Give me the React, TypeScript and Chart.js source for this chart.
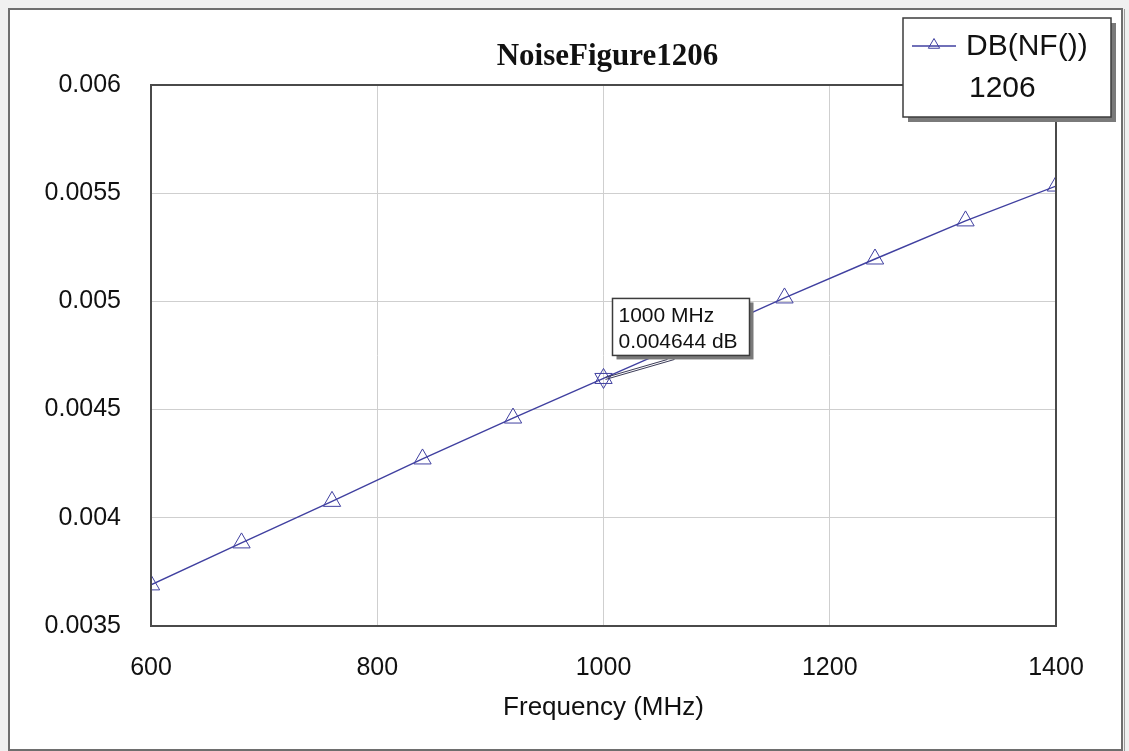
import React, { useEffect, useRef } from "react";
import { Chart, registerables } from "chart.js";

Chart.register(...registerables);

// ---- Data ----
const freqsMHz = [600, 680, 760, 840, 920, 1000, 1080, 1160, 1240, 1320, 1400];
const nfDb = [0.00369, 0.003884, 0.004076, 0.004272, 0.004461, 0.004644, 0.004828, 0.005016, 0.005196, 0.005372, 0.005533];
const xTickValues = [600, 800, 1000, 1200, 1400];
const xTickLabels = ["600", "800", "1000", "1200", "1400"];
const yTickValues = [0.0035, 0.004, 0.0045, 0.005, 0.0055, 0.006];
const yTickLabels = ["0.0035", "0.004", "0.0045", "0.005", "0.0055", "0.006"];
const chartTitle = "NoiseFigure1206";
const xAxisTitle = "Frequency (MHz)";
const legendLines = ["DB(NF())", "1206"];
const markerFreq = 1000;
const markerValue = 0.004644;
const markerLines = ["1000 MHz", "0.004644 dB"];

const W = 1129;
const H = 751;
const SERIES = "#4040a0";
const FONT = "'Liberation Sans', Arial, sans-serif";

function triangle(ctx: CanvasRenderingContext2D, x: number, y: number, r: number, inverted: boolean) {
  const s = inverted ? -1 : 1;
  ctx.beginPath();
  for (let i = 0; i < 3; i++) {
    const a = (i * 2 * Math.PI) / 3;
    const px = x + Math.sin(a) * r;
    const py = y - s * Math.cos(a) * r;
    if (i === 0) ctx.moveTo(px, py);
    else ctx.lineTo(px, py);
  }
  ctx.closePath();
  ctx.stroke();
}

function shadowBox(ctx: CanvasRenderingContext2D, x: number, y: number, w: number, h: number, off: number) {
  ctx.fillStyle = "#7a7a7a";
  ctx.fillRect(x + off, y + off, w, h);
  ctx.fillStyle = "#ffffff";
  ctx.fillRect(x, y, w, h);
  ctx.strokeStyle = "#3c3c3c";
  ctx.lineWidth = 1.5;
  ctx.strokeRect(x, y, w, h);
}

const framePlugin = {
  id: "framePlugin",
  beforeDraw(chart: any) {
    const ctx = chart.ctx as CanvasRenderingContext2D;
    ctx.save();
    ctx.fillStyle = "#f0f0f0";
    ctx.fillRect(0, 0, W, H);
    ctx.fillStyle = "#ffffff";
    ctx.fillRect(10, 10, 1112, 740);
    ctx.strokeStyle = "#6e6e6e";
    ctx.lineWidth = 2;
    ctx.strokeRect(9, 9, 1113, 741);
    ctx.strokeStyle = "#9a9a9a";
    ctx.lineWidth = 1;
    ctx.beginPath();
    ctx.moveTo(1124.5, 9);
    ctx.lineTo(1124.5, 751);
    ctx.stroke();
    // title
    const ca = chart.chartArea;
    ctx.fillStyle = "#111111";
    ctx.font = "bold 31px 'Liberation Serif', 'Times New Roman', serif";
    ctx.textAlign = "center";
    ctx.textBaseline = "alphabetic";
    ctx.fillText(chartTitle, (ca.left + ca.right) / 2 + 4, 65);
    ctx.restore();
  },
  afterDatasetsDraw(chart: any) {
    const ctx = chart.ctx as CanvasRenderingContext2D;
    const ca = chart.chartArea;
    const xs = chart.scales.x;
    const ys = chart.scales.y;
    ctx.save();
    // plot border
    ctx.strokeStyle = "#4a4a4a";
    ctx.lineWidth = 2;
    ctx.strokeRect(ca.left, ca.top, ca.right - ca.left, ca.bottom - ca.top);

    // marker annotation
    const px = xs.getPixelForValue(markerFreq);
    const py = ys.getPixelForValue(markerValue);
    ctx.strokeStyle = SERIES;
    ctx.lineWidth = 1;
    triangle(ctx, px, py, 10, true);
    const bx = px + 9;
    const by = py - 80;
    const bw = 137;
    const bh = 57;
    ctx.strokeStyle = "#3c3c58";
    ctx.lineWidth = 1;
    ctx.beginPath();
    ctx.moveTo(px + 2, py - 1);
    ctx.lineTo(bx + 55, by + bh + 4);
    ctx.stroke();
    ctx.beginPath();
    ctx.moveTo(px + 2, py + 1);
    ctx.lineTo(bx + 62, by + bh + 4);
    ctx.stroke();
    shadowBox(ctx, bx, by, bw, bh, 4);
    ctx.fillStyle = "#111111";
    ctx.font = `21px ${FONT}`;
    ctx.textAlign = "left";
    ctx.textBaseline = "alphabetic";
    ctx.fillText(markerLines[0], bx + 6, by + 24);
    ctx.fillText(markerLines[1], bx + 6, by + 50);

    // legend
    shadowBox(ctx, 903, 18, 208, 99, 5);
    ctx.strokeStyle = SERIES;
    ctx.lineWidth = 1.3;
    ctx.beginPath();
    ctx.moveTo(912, 46);
    ctx.lineTo(956, 46);
    ctx.stroke();
    ctx.lineWidth = 1;
    triangle(ctx, 934, 45, 6.5, false);
    ctx.fillStyle = "#111111";
    ctx.font = `30px ${FONT}`;
    ctx.textAlign = "left";
    ctx.fillText(legendLines[0], 966, 55);
    ctx.fillText(legendLines[1], 969, 97);
    ctx.restore();
  },
};

export default function App() {
  const ref = useRef<HTMLCanvasElement | null>(null);

  useEffect(() => {
    if (!ref.current) return;
    const chart = new Chart(ref.current, {
      type: "line",
      data: {
        datasets: [
          {
            label: "DB(NF())",
            data: freqsMHz.map((f, i) => ({ x: f, y: nfDb[i] })),
            borderColor: SERIES,
            borderWidth: 1.4,
            pointStyle: "triangle",
            pointRadius: 10,
            pointBorderWidth: 1,
            pointBorderColor: SERIES,
            pointBackgroundColor: "rgba(255,255,255,0)",
            tension: 0,
            fill: false,
          },
        ],
      },
      options: {
        responsive: false,
        animation: false,
        events: [],
        layout: { padding: { left: 0, right: 73, top: 85, bottom: 0 } },
        plugins: {
          legend: { display: false },
          title: { display: false },
          tooltip: { enabled: false },
        },
        scales: {
          x: {
            type: "linear",
            min: 600,
            max: 1400,
            afterFit: (s: any) => {
              s.height = 125;
            },
            afterBuildTicks: (s: any) => {
              s.ticks = xTickValues.map((v) => ({ value: v }));
            },
            ticks: {
              padding: 27,
              color: "#111111",
              font: { family: FONT, size: 25 },
              maxRotation: 0,
              callback: (_v: any, i: number) => xTickLabels[i],
            },
            grid: { color: "#cfcfcf", lineWidth: 1, drawTicks: false },
            border: { display: false },
            title: {
              display: true,
              text: xAxisTitle,
              color: "#111111",
              font: { family: FONT, size: 26 },
              padding: { top: 0, bottom: 28 },
            },
          },
          y: {
            type: "linear",
            min: 0.0035,
            max: 0.006,
            afterFit: (s: any) => {
              s.width = 151;
            },
            afterBuildTicks: (s: any) => {
              s.ticks = yTickValues.map((v) => ({ value: v }));
            },
            ticks: {
              padding: 30,
              color: "#111111",
              font: { family: FONT, size: 25 },
              callback: (_v: any, i: number) => yTickLabels[i],
            },
            grid: { color: "#cfcfcf", lineWidth: 1, drawTicks: false },
            border: { display: false },
          },
        },
      },
      plugins: [framePlugin],
    });
    return () => chart.destroy();
  }, []);

  return (
    <div style={{ position: "fixed", left: 0, top: 0, width: W, height: H }}>
      <canvas ref={ref} width={W} height={H} style={{ width: W, height: H, display: "block" }} />
    </div>
  );
}
